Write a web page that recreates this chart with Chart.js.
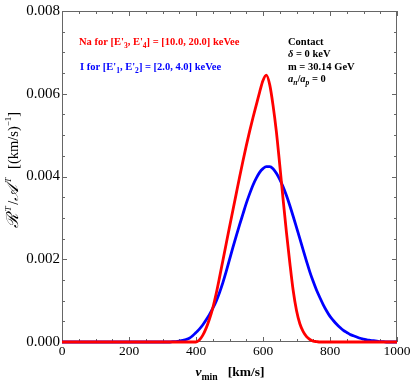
<!DOCTYPE html>
<html>
<head>
<meta charset="utf-8">
<script src="https://cdn.jsdelivr.net/npm/chart.js@4.4.0/dist/chart.umd.min.js"></script>
<style>
  html, body { margin: 0; padding: 0; background: #fff; }
</style>
</head>
<body>
<canvas id="rate-canvas" width="413" height="383"></canvas>
<script>
// v_min grid (km/s)
const vMin = [0, 100, 200,
  300, 310, 320, 330, 340, 350, 360, 370, 380, 390,
  400, 410, 420, 430, 440, 450, 460, 470, 480, 490,
  500, 510, 520, 530, 540, 550, 560, 570, 580, 590,
  600, 610, 620, 630, 640, 650, 660, 670, 680, 690,
  700, 710, 720, 730, 740, 750, 760, 770, 780, 790,
  800, 810, 820, 830, 840, 850, 860, 870, 880, 890,
  900, 910, 920, 930, 940, 950, 960, 970, 980, 990, 1000];

// Na, [E'3, E'4] = [10, 20] keVee
const naRate = [0, 0, 0,
  0, 0, 0, 0, 0, 0, 0, 0, 0, 0,
  0, 0.00005, 0.00016, 0.00033, 0.00055, 0.00082, 0.00116, 0.00155, 0.00196, 0.00237,
  0.00278, 0.00318, 0.00358, 0.00398, 0.00437, 0.00474, 0.00509, 0.00542, 0.00573, 0.00604,
  0.00632, 0.00645, 0.00622, 0.00572, 0.00508, 0.00428, 0.00345, 0.00265, 0.00192, 0.00125,
  0.00076, 0.00044, 0.00025, 0.00013, 0.00006, 0.00002, 0.00001, 0, 0, 0,
  0, 0, 0, 0, 0, 0, 0, 0, 0, 0,
  0, 0, 0, 0, 0, 0, 0, 0, 0, 0, 0];

// I, [E'1, E'2] = [2, 4] keVee
const iRate = [0, 0, 0,
  0, 0, 0, 0.00001, 0.00001, 0.00002, 0.00004, 0.00006, 0.00009, 0.00015,
  0.00023, 0.00031, 0.00041, 0.00053, 0.00066, 0.00081, 0.00098, 0.00119, 0.00143, 0.0017,
  0.00199, 0.00228, 0.00256, 0.00283, 0.00309, 0.00335, 0.00358, 0.00379, 0.00396, 0.0041,
  0.00419, 0.00424, 0.00424, 0.00419, 0.00408, 0.00393, 0.00375, 0.00354, 0.0033, 0.00304,
  0.00277, 0.0025, 0.00222, 0.00195, 0.00169, 0.00146, 0.00125, 0.00107, 0.0009, 0.00075,
  0.00062, 0.00052, 0.00043, 0.00035, 0.00028, 0.00023, 0.00018, 0.00015, 0.00012, 0.00009,
  0.00007, 0.00005, 0.00004, 0.00003, 0.00002, 0.00001, 0.00001, 0, 0, 0, 0];

const xMajor = 200;
const yMajor = 0.002;

const SERIF = '"Liberation Serif", "DejaVu Serif", serif';

// draws a run of text pieces: [text, mode] with mode containing 'sub', 'sup', 'i', 'big', 'gap'
function richText(ctx, x, y, parts, size, color, draw, weight) {
  weight = weight || 'bold';
  let cx = x;
  for (const [t, m] of parts) {
    let fs = size, dy = 0, style = weight;
    if (m.includes('sub')) { fs = size * 0.72; dy = size * 0.28; }
    if (m.includes('sup')) { fs = size * 0.62; dy = -size * 0.45; }
    if (m.includes('big')) fs = size * 1.15;
    if (m.includes('i')) style = 'italic ' + weight;
    if (m.includes('gap')) cx += 2;
    ctx.font = style + ' ' + fs + 'px ' + SERIF;
    if (draw) {
      ctx.fillStyle = color;
      ctx.fillText(t, cx, y + dy);
    }
    cx += ctx.measureText(t).width;
    if (m.includes('gap')) cx += 1.5;
  }
  return cx - x;
}

const framePlugin = {
  id: 'frame',
  beforeDatasetsDraw(chart) {
    const { ctx, chartArea: a, scales } = chart;
    ctx.save();
    ctx.strokeStyle = '#666';
    ctx.lineWidth = 1;
    ctx.strokeRect(a.left + 0.5, a.top + 0.5, a.right - a.left - 1, a.bottom - a.top - 1);
    ctx.beginPath();
    scales.x.ticks.forEach(t => {
      const px = Math.round(scales.x.getPixelForValue(t.value)) + 0.5;
      const len = t.value % xMajor === 0 ? 5 : 3;
      ctx.moveTo(px, a.bottom); ctx.lineTo(px, a.bottom - len);
      ctx.moveTo(px, a.top); ctx.lineTo(px, a.top + len);
    });
    scales.y.ticks.forEach(t => {
      const py = Math.round(scales.y.getPixelForValue(t.value)) + 0.5;
      const r = t.value / yMajor;
      const len = Math.abs(r - Math.round(r)) < 1e-6 ? 5 : 3;
      ctx.moveTo(a.left, py); ctx.lineTo(a.left + len, py);
      ctx.moveTo(a.right, py); ctx.lineTo(a.right - len, py);
    });
    ctx.stroke();
    ctx.restore();
  },
  afterDraw(chart) {
    const { ctx } = chart;
    ctx.save();
    ctx.textBaseline = 'alphabetic';
    // in-plot labels
    richText(ctx, 79, 45, [["Na for [E'", ''], ['3', 'sub'], [", E'", ''], ['4', 'sub'], ['] = [10.0, 20.0] keVee', '']], 10.5, '#ff0000', true);
    richText(ctx, 80, 70, [["I for [E'", ''], ['1', 'sub'], [", E'", ''], ['2', 'sub'], ['] = [2.0, 4.0] keVee', '']], 10.5, '#0000ff', true);
    richText(ctx, 288, 45, [['Contact', '']], 10.5, '#000', true);
    richText(ctx, 288, 57, [['δ', 'i'], [' = 0 keV', '']], 10.5, '#000', true);
    richText(ctx, 288, 70, [['m = 30.14 GeV', '']], 10.5, '#000', true);
    richText(ctx, 288, 82, [['a', 'i'], ['n', 'i sub'], ['/', ''], ['a', 'i'], ['p', 'i sub'], [' = 0', '']], 10.5, '#000', true);

    // x title
    const xParts = [['v', 'i'], ['min', 'sub'], ['   [km/s]', '']];
    const xw = richText(ctx, 0, 0, xParts, 13.5, '#000', false);
    richText(ctx, 230 - xw / 2, 376, xParts, 13.5, '#000', true);

    // y title
    const yParts = [['ℛ', 'big'], ['T', 'i sup gap'], ['/', ''], ['𝒜', 'big'], ['T', 'i sup gap'], ['  [(km/s)', ''], ['−1', 'sup'], [']', '']];
    const yw = richText(ctx, 0, 0, yParts, 14.5, '#000', false, 'normal');
    ctx.translate(18, 170);
    ctx.rotate(-Math.PI / 2);
    richText(ctx, -yw / 2, 0, yParts, 14.5, '#000', true, 'normal');
    ctx.restore();
  }
};

const data = {
  labels: vMin,
  datasets: [{
    label: 'Na',
    data: naRate,
    borderColor: '#ff0000',
    borderWidth: 2.8,
    pointRadius: 0,
    cubicInterpolationMode: 'monotone',
    clip: false,
    fill: false
  }, {
    label: 'I',
    data: iRate,
    borderColor: '#0000ff',
    borderWidth: 2.8,
    pointRadius: 0,
    cubicInterpolationMode: 'monotone',
    clip: false,
    fill: false
  }]
};

const config = {
  type: 'line',
  data: data,
  options: {
    responsive: false,
    animation: false,
    layout: { padding: { top: 7, right: 16, left: 0, bottom: 0 } },
    plugins: {
      legend: { display: false },
      tooltip: { enabled: false }
    },
    scales: {
      x: {
        type: 'linear',
        min: 0,
        max: 1000,
        afterFit(s) { s.height = 41; },
        grid: { display: false, drawTicks: false, tickLength: 0 },
        border: { display: false },
        ticks: {
          stepSize: 50,
          autoSkip: false,
          maxRotation: 0,
          padding: 1,
          color: '#000',
          font: { family: SERIF, size: 13.5 },
          callback: v => (v % xMajor === 0 ? String(v) : '')
        }
      },
      y: {
        min: 0,
        max: 0.008,
        afterFit(s) { s.width = 62; },
        grid: { display: false, drawTicks: false, tickLength: 0 },
        border: { display: false },
        ticks: {
          stepSize: 0.0005,
          autoSkip: false,
          padding: 2,
          color: '#000',
          font: { family: SERIF, size: 15 },
          callback: v => {
            const r = v / yMajor;
            return Math.abs(r - Math.round(r)) < 1e-6 ? v.toFixed(3) : '';
          }
        }
      }
    }
  },
  plugins: [framePlugin]
};

window.onload = function() {
  const ctx = document.getElementById('rate-canvas').getContext('2d');
  new Chart(ctx, config);
};
</script>
</body>
</html>
